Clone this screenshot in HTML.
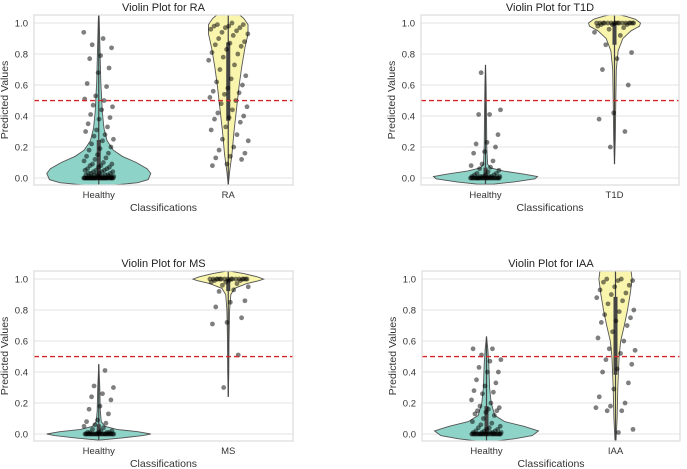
<!DOCTYPE html>
<html><head><meta charset="utf-8">
<style>
html,body{margin:0;padding:0;background:#fff;}
svg{display:block;font-family:"Liberation Sans",Arial,sans-serif;}
</style></head>
<body>
<svg id="chart" width="687" height="469" viewBox="0 0 687 469" xmlns="http://www.w3.org/2000/svg"></svg>
<script>
// ---- data ----
const categories = ["Healthy", "Disease"];
const panelTitles = ["RA", "T1D", "MS", "IAA"];
const yTicks = [0.0, 0.2, 0.4, 0.6, 0.8, 1.0];
const threshold = 0.5;

// density profiles: [value, relative half-width]
const raHealthyDensity = [[-0.045,0.3],[-0.03,0.75],[-0.01,0.95],[0.03,1.0],[0.06,0.93],[0.1,0.72],[0.14,0.45],[0.18,0.28],[0.24,0.16],[0.32,0.1],[0.42,0.07],[0.52,0.055],[0.62,0.04],[0.75,0.03],[0.9,0.018],[1.0,0.01],[1.052,0.005]];
const raDiseaseDensity = [[-0.045,0.0],[0.05,0.03],[0.15,0.07],[0.3,0.11],[0.45,0.16],[0.6,0.21],[0.72,0.26],[0.84,0.32],[0.93,0.38],[0.99,0.38],[1.03,0.3],[1.052,0.22]];
const t1dHealthyDensity = [[-0.04,0.15],[-0.025,0.55],[-0.005,0.95],[0.01,1.0],[0.025,0.75],[0.045,0.35],[0.065,0.1],[0.09,0.04],[0.2,0.025],[0.4,0.02],[0.6,0.012],[0.73,0.0]];
const t1dDiseaseDensity = [[0.09,0.0],[0.25,0.015],[0.5,0.025],[0.7,0.035],[0.82,0.07],[0.9,0.16],[0.95,0.32],[0.98,0.48],[1.0,0.5],[1.025,0.4],[1.045,0.2],[1.052,0.1]];
const msHealthyDensity = [[-0.04,0.0],[-0.025,0.45],[-0.01,0.85],[0.0,1.0],[0.015,0.75],[0.03,0.35],[0.05,0.12],[0.08,0.05],[0.15,0.03],[0.3,0.02],[0.45,0.0]];
const msDiseaseDensity = [[0.24,0.0],[0.4,0.01],[0.6,0.015],[0.8,0.025],[0.9,0.05],[0.94,0.12],[0.97,0.35],[0.99,0.6],[1.0,0.68],[1.015,0.55],[1.035,0.3],[1.05,0.05]];
const iaaHealthyDensity = [[-0.045,0.2],[-0.03,0.55],[-0.01,0.88],[0.02,1.0],[0.05,0.72],[0.08,0.35],[0.12,0.16],[0.2,0.09],[0.3,0.06],[0.45,0.045],[0.55,0.025],[0.63,0.0]];
const iaaDiseaseDensity = [[-0.045,0.01],[0.1,0.03],[0.3,0.045],[0.5,0.07],[0.6,0.1],[0.7,0.17],[0.8,0.23],[0.9,0.28],[1.0,0.32],[1.052,0.3]];

// jittered observations
const raHealthyPoints = [0.94,0.9,0.86,0.84,0.79,0.77,0.71,0.68,0.61,0.59,0.53,0.51,0.5,0.47,0.46,0.44,0.41,0.39,0.38,0.35,0.33,0.31,0.3,0.28,0.27,0.25,0.24,0.22,0.2,0.19,0.18,0.16,0.15,0.14,0.13,0.12,0.11,0.1,0.09,0.09,0.08,0.08,0.07,0.07,0.06,0.06,0.05,0.05,0.05,0.04,0.04,0.04,0.03,0.03,0.03,0.03,0.02,0.02,0.02,0.02,0.02,0.01,0.01,0.01,0.01,0.01,0.01,0.01,0.01,0.0,0.0,0.0,0.0,0.0,0.0,0.0,0.0,0.0,0.0,0.0,0.0,0.0,0.0,0.0,0.0,0.0,0.0,0.0,0.0,0.0,0.0,0.0,0.0,0.0,0.0,0.0,0.0,0.0,0.0,0.0,0.0,0.0,0.0];
const raDiseasePoints = [1.0,0.99,0.99,0.98,0.98,0.97,0.97,0.96,0.95,0.94,0.93,0.92,0.9,0.88,0.87,0.86,0.85,0.83,0.81,0.8,0.78,0.76,0.73,0.7,0.66,0.64,0.62,0.6,0.58,0.56,0.55,0.54,0.52,0.5,0.48,0.46,0.44,0.42,0.4,0.39,0.38,0.36,0.33,0.31,0.28,0.25,0.24,0.2,0.18,0.16,0.14,0.13,0.12,0.09,0.08];
const t1dHealthyPoints = [0.68,0.44,0.41,0.41,0.28,0.23,0.22,0.2,0.17,0.16,0.11,0.09,0.08,0.07,0.06,0.05,0.04,0.03,0.03,0.02,0.02,0.02,0.01,0.01,0.01,0.01,0.01,0.01,0.0,0.0,0.0,0.0,0.0,0.0,0.0,0.0,0.0,0.0,0.0,0.0,0.0,0.0,0.0,0.0,0.0,0.0,0.0,0.0,0.0,0.0,0.0,0.0,0.0,0.0];
const t1dDiseasePoints = [1.0,1.0,1.0,1.0,1.0,1.0,1.0,1.0,1.0,1.0,1.0,1.0,1.0,1.0,1.0,1.0,0.99,0.99,0.99,0.98,0.97,0.96,0.94,0.92,0.86,0.81,0.77,0.7,0.6,0.42,0.38,0.3,0.2];
const msHealthyPoints = [0.41,0.31,0.3,0.26,0.24,0.22,0.18,0.16,0.13,0.09,0.08,0.07,0.06,0.05,0.04,0.03,0.02,0.02,0.01,0.01,0.01,0.01,0.01,0.0,0.0,0.0,0.0,0.0,0.0,0.0,0.0,0.0,0.0,0.0,0.0,0.0,0.0,0.0,0.0,0.0,0.0,0.0,0.0,0.0,0.0,0.0,0.0,0.0];
const msDiseasePoints = [1.0,1.0,1.0,1.0,1.0,1.0,1.0,1.0,1.0,1.0,1.0,1.0,1.0,1.0,1.0,1.0,0.99,0.99,0.99,0.98,0.98,0.97,0.96,0.95,0.93,0.92,0.86,0.85,0.82,0.75,0.72,0.71,0.51,0.3];
const iaaHealthyPoints = [0.55,0.55,0.51,0.48,0.47,0.43,0.4,0.4,0.35,0.33,0.31,0.28,0.27,0.26,0.22,0.2,0.18,0.17,0.16,0.15,0.15,0.14,0.13,0.12,0.1,0.08,0.07,0.06,0.05,0.04,0.04,0.03,0.03,0.02,0.02,0.02,0.01,0.01,0.01,0.01,0.01,0.0,0.0,0.0,0.0,0.0,0.0,0.0,0.0,0.0,0.0,0.0,0.0,0.0,0.0,0.0,0.0,0.0,0.0,0.0,0.0,0.0,0.0,0.0,0.0];
const iaaDiseasePoints = [1.0,1.0,0.99,0.99,0.98,0.96,0.95,0.93,0.91,0.9,0.88,0.86,0.84,0.8,0.79,0.77,0.75,0.73,0.72,0.7,0.66,0.62,0.6,0.55,0.54,0.52,0.48,0.45,0.42,0.4,0.33,0.29,0.24,0.2,0.18,0.17,0.15,0.15,0.03,0.01];

const panelDensities = [[raHealthyDensity, raDiseaseDensity],[t1dHealthyDensity, t1dDiseaseDensity],[msHealthyDensity, msDiseaseDensity],[iaaHealthyDensity, iaaDiseaseDensity]];
const panelPoints = [[raHealthyPoints, raDiseasePoints],[t1dHealthyPoints, t1dDiseasePoints],[msHealthyPoints, msDiseasePoints],[iaaHealthyPoints, iaaDiseasePoints]];

// ---- layout ----
const NS = "http://www.w3.org/2000/svg";
const svg = document.getElementById("chart");
const frames = [
  {l:34, r:293, t:15, b:185},
  {l:421, r:679, t:15, b:185},
  {l:34, r:293, t:271, b:441},
  {l:422, r:680, t:271, b:441}
];
const YMIN = -0.045, YMAX = 1.052;
const fills = ["#8dd3c7", "#f9f5ad"];
const MAXW = 52;

function el(tag, attrs, parent){
  const e = document.createElementNS(NS, tag);
  for (const k in attrs) e.setAttribute(k, attrs[k]);
  (parent || svg).appendChild(e);
  return e;
}
function quant(arr, q){
  const s = arr.slice().sort((a,b)=>a-b);
  const p = (s.length-1)*q, lo = Math.floor(p), hi = Math.ceil(p);
  return s[lo] + (s[hi]-s[lo])*(p-lo);
}

frames.forEach((f, pi) => {
  const g = el("g", {});
  
  
  const yS = v => f.b - (v - YMIN) / (YMAX - YMIN) * (f.b - f.t);
  const band = (f.r - f.l) / 2;
  const xS = i => f.l + band * (i + 0.5);
  const clipId = "clip" + pi;
  const cp = el("clipPath", {id: clipId}, g);
  el("rect", {x:f.l, y:f.t, width:f.r-f.l, height:f.b-f.t}, cp);

  yTicks.forEach(t => {
    const gl = el("line", {x1:f.l, x2:f.r, y1:yS(t), y2:yS(t), stroke:"#e3e3e3", "stroke-width":1}, g);
    
    
    const tl = el("text", {x:f.l-6, y:yS(t)+3.5, "text-anchor":"end", "font-size":"9.5", fill:"#333"}, g);
    tl.textContent = t.toFixed(1);
    
    
  });

  const plot = el("g", {"clip-path":"url(#"+clipId+")"}, g);
  categories.forEach((c, ci) => {
    const cx = xS(ci);
    const dens = panelDensities[pi][ci];
    let right = dens.map(d => (cx + d[1]*MAXW).toFixed(1) + "," + yS(d[0]).toFixed(1));
    let left = dens.slice().reverse().map(d => (cx - d[1]*MAXW).toFixed(1) + "," + yS(d[0]).toFixed(1));
    const vp = el("path", {d:"M" + right.join(" L") + " L" + left.join(" L") + " Z", fill:fills[ci], stroke:"#555", "stroke-width":0.9}, plot);
    
    
    const pts = panelPoints[pi][ci];
    const dmin = dens[0][0], dmax = dens[dens.length-1][0];
    const wl = el("line", {x1:cx, x2:cx, y1:yS(dmin), y2:yS(dmax), stroke:"#444", "stroke-width":1.2}, plot);
    
    
    const bx = el("line", {x1:cx, x2:cx, y1:yS(quant(pts,0.25)), y2:yS(quant(pts,0.75)), stroke:"#444", "stroke-width":4}, plot);
    
    
    const jw = ci===0 ? 15 : 20;
    pts.forEach((v, i) => {
      const j = (((i*7919 + pi*131 + ci*57) % 97) / 96 - 0.5) * 2 * jw;
      const p = el("circle", {cx:cx + j, cy:yS(v), r:2.4, fill:"#000", "fill-opacity":0.5}, plot);
      
      
    });
  });

  const th = el("line", {x1:f.l, x2:f.r, y1:yS(threshold), y2:yS(threshold), stroke:"#d62728", "stroke-width":1.3, "stroke-dasharray":"5,3"}, g);
  
  

  const fr = el("rect", {x:f.l, y:f.t, width:f.r-f.l, height:f.b-f.t, fill:"none", stroke:"#dcdcdc", "stroke-width":1.2}, g);
  
  

  categories.forEach((c, ci) => {
    const xl = el("text", {x:xS(ci), y:f.b+13, "text-anchor":"middle", "font-size":"9.5", fill:"#333"}, g);
    xl.textContent = ci===0 ? "Healthy" : panelTitles[pi];
    
    
  });
  const xt = el("text", {x:(f.l+f.r)/2, y:f.b+26, "text-anchor":"middle", "font-size":"10.5", fill:"#333"}, g);
  xt.textContent = "Classifications";
  
  
  const yx = f.l - 26, yy = (f.t+f.b)/2;
  const yt = el("text", {x:yx, y:yy, "text-anchor":"middle", "font-size":"10.5", fill:"#333", transform:"rotate(-90 "+yx+" "+yy+")"}, g);
  yt.textContent = "Predicted Values";
  
  
  const tt = el("text", {x:(f.l+f.r)/2, y:f.t-4, "text-anchor":"middle", "font-size":"11", fill:"#222"}, g);
  tt.textContent = "Violin Plot for " + panelTitles[pi];
  
  
});
</script>
</body></html>
